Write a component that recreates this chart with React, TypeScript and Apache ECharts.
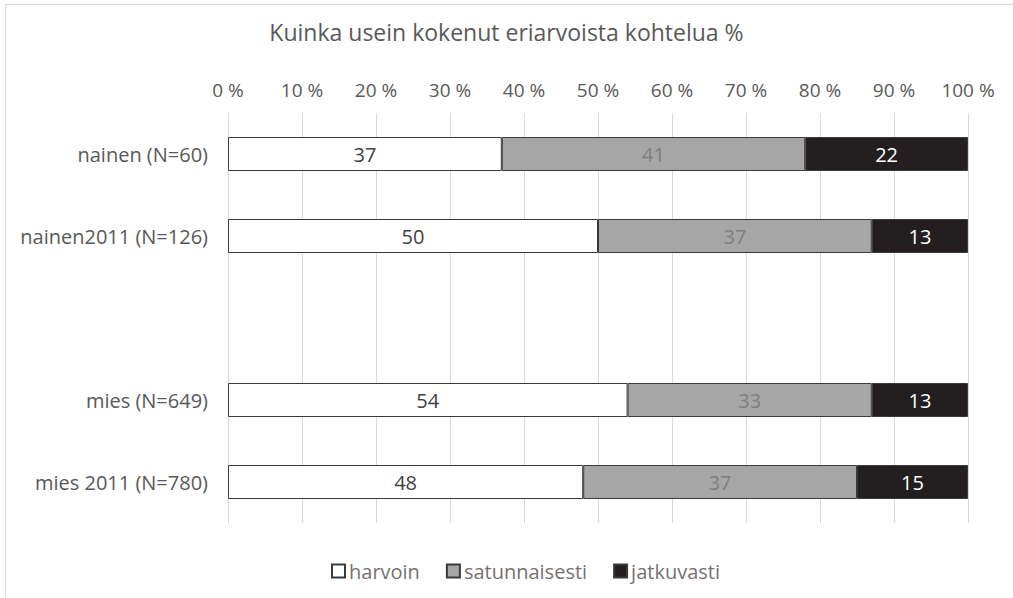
import React, { useEffect, useRef } from "react";
import * as echarts from "echarts";

const categories = ["nainen (N=60)", "nainen2011 (N=126)", "", "mies (N=649)", "mies 2011 (N=780)"];
const harvoin = [37, 50, null, 54, 48];
const satunnaisesti = [41, 37, null, 33, 37];
const jatkuvasti = [22, 13, null, 13, 15];
const seriesNames = ["harvoin", "satunnaisesti", "jatkuvasti"];
const xTicks = [0, 10, 20, 30, 40, 50, 60, 70, 80, 90, 100];

const FONT = "'Open Sans', 'Noto Sans', sans-serif";

export default function App() {
  const ref = useRef<HTMLDivElement>(null);
  useEffect(() => {
    const chart = echarts.init(ref.current!, undefined, { renderer: "svg" });
    const mk = (name: string, data: (number | null)[], color: string, labelColor: string) => ({
      name,
      type: "bar",
      stack: "all",
      data,
      barWidth: 34,
      itemStyle: { color, borderColor: "#3a3a3a", borderWidth: 1 },
      label: {
        show: true,
        position: "inside",
        color: labelColor,
        fontSize: 20,
        fontFamily: FONT,
        formatter: (p: any) => String(p.value),
      },
    });
    chart.setOption({
      animation: false,
      backgroundColor: "#ffffff",
      textStyle: { fontFamily: FONT },
      title: {
        text: "Kuinka usein kokenut eriarvoista kohtelua %",
        left: "center",
        top: 15,
        textStyle: { color: "#595959", fontSize: 23, fontWeight: "normal", fontFamily: FONT },
      },
      grid: { left: 228, right: 45, top: 113, bottom: 75, containLabel: false },
      xAxis: {
        type: "value",
        position: "top",
        min: 0,
        max: 100,
        interval: 10,
        axisLine: { show: false },
        axisTick: { show: false },
        splitLine: { show: true, lineStyle: { color: "#d9d9d9", width: 1 } },
        axisLabel: {
          color: "#595959",
          fontSize: 19,
          fontFamily: FONT,
          margin: 14,
          formatter: (v: number) => (xTicks.includes(v) ? v + " %" : ""),
        },
      },
      yAxis: {
        type: "category",
        data: categories,
        inverse: true,
        axisLine: { show: true, lineStyle: { color: "#d9d9d9" } },
        axisTick: { show: false },
        axisLabel: { color: "#595959", fontSize: 20, fontFamily: FONT, margin: 20 },
      },
      legend: {
        bottom: 12,
        left: 326,
        icon: "rect",
        itemWidth: 13,
        itemHeight: 13,
        itemGap: 26,
        textStyle: { color: "#767171", fontSize: 20, fontFamily: FONT, padding: [0, 0, 0, -1] },
        data: seriesNames,
      },
      graphic: [
        {
          type: "rect",
          shape: { x: 5.5, y: 4.5, width: 1100, height: 700 },
          style: { fill: "none", stroke: "#d9d9d9", lineWidth: 1 },
          silent: true,
          z: -10,
        },
      ],
      series: [
        mk(seriesNames[0], harvoin, "#ffffff", "#404040"),
        mk(seriesNames[1], satunnaisesti, "#a6a6a6", "#7f7f7f"),
        mk(seriesNames[2], jatkuvasti, "#231f20", "#ffffff"),
      ],
    });
    return () => chart.dispose();
  }, []);
  return <div ref={ref} style={{ width: 1013, height: 598, position: "absolute", left: 0, top: 0 }} />;
}
